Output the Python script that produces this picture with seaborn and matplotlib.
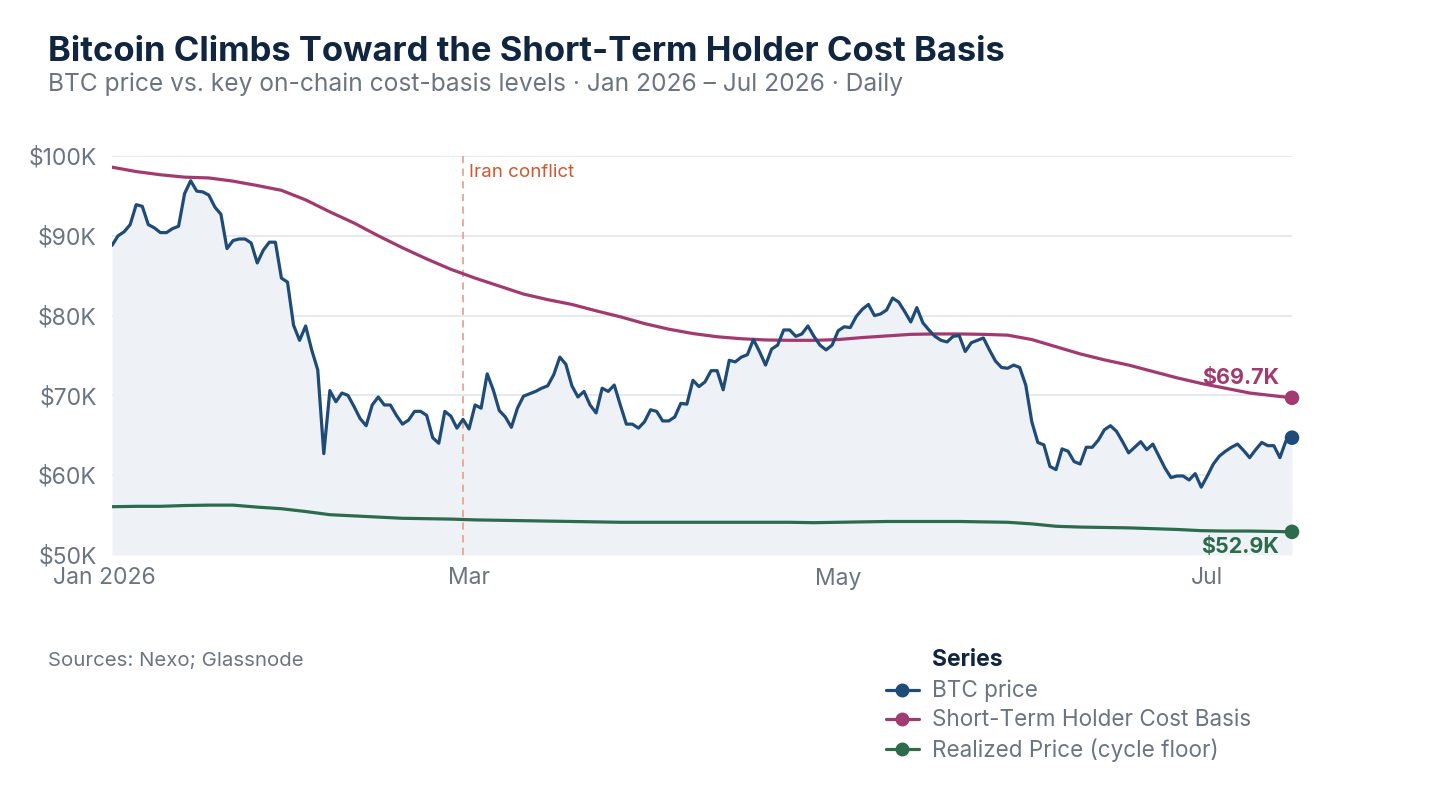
import matplotlib
matplotlib.use("Agg")
import pandas as pd
import matplotlib.pyplot as plt
import seaborn as sns
from matplotlib.lines import Line2D
from matplotlib.ticker import FuncFormatter
from matplotlib.transforms import ScaledTranslation

# BTC price, daily from 2026-01-01, in $K
btc_price = [
    88.8, 90.0, 90.5, 91.4, 93.9, 93.7, 91.4, 91.0, 90.4, 90.4,
    90.9, 91.2, 95.3, 96.9, 95.6, 95.5, 95.1, 93.6, 92.7, 88.4,
    89.4, 89.6, 89.6, 89.1, 86.6, 88.2, 89.2, 89.2, 84.7, 84.2,
    78.8, 76.9, 78.7, 75.7, 73.2, 62.7, 70.6, 69.2, 70.3, 70.0,
    68.6, 67.1, 66.2, 68.8, 69.8, 68.8, 68.8, 67.5, 66.4, 66.9,
    68.0, 68.0, 67.5, 64.7, 64.0, 68.0, 67.4, 65.9, 67.0, 65.8,
    68.8, 68.4, 72.7, 70.7, 68.1, 67.3, 66.0, 68.4, 69.9, 70.2,
    70.5, 70.9, 71.2, 72.6, 74.8, 73.9, 71.2, 69.8, 70.5, 68.8,
    67.8, 70.9, 70.5, 71.3, 68.8, 66.4, 66.4, 65.9, 66.7, 68.2,
    68.0, 66.8, 66.8, 67.3, 69.0, 68.9, 71.9, 71.1, 71.7, 73.1,
    73.1, 70.7, 74.4, 74.2, 74.8, 75.1, 77.0, 75.5, 73.8, 75.8,
    76.3, 78.2, 78.2, 77.4, 77.7, 78.7, 77.4, 76.3, 75.7, 76.3,
    78.1, 78.6, 78.5, 79.9, 80.8, 81.4, 80.0, 80.2, 80.7, 82.2,
    81.7, 80.5, 79.2, 81.0, 79.1, 78.2, 77.4, 76.9, 76.7, 77.4,
    77.5, 75.5, 76.6, 76.9, 77.2, 75.7, 74.3, 73.5, 73.4, 73.8,
    73.5, 71.3, 66.7, 64.1, 63.8, 61.1, 60.7, 63.3, 63.0, 61.7,
    61.4, 63.5, 63.5, 64.4, 65.7, 66.2, 65.5, 64.2, 62.8, 63.5,
    64.2, 63.2, 63.9, 62.4, 60.9, 59.7, 59.9, 59.9, 59.4, 60.2,
    58.5, 59.9, 61.4, 62.4, 63.0, 63.5, 63.9, 63.1, 62.2, 63.2,
    64.1, 63.7, 63.7, 62.2, 64.3, 64.7,
]

# cost-basis levels read every 4 days (last point = final day), in $K
sth_cost_basis = [
    98.6, 98.05, 97.65, 97.35, 97.25, 96.85, 96.3, 95.7, 94.5, 93.0,
    91.6, 90.0, 88.5, 87.1, 85.8, 84.7, 83.7, 82.7, 82.0, 81.4,
    80.6, 79.85, 79.0, 78.3, 77.75, 77.35, 77.1, 76.95, 76.9, 76.9,
    77.0, 77.25, 77.45, 77.65, 77.7, 77.7, 77.65, 77.55, 77.0, 76.1,
    75.2, 74.45, 73.8, 73.0, 72.2, 71.5, 70.9, 70.3, 69.95, 69.7,
]
realized_price = [
    56.05, 56.1, 56.1, 56.2, 56.25, 56.25, 56.0, 55.8, 55.45, 55.05,
    54.9, 54.75, 54.6, 54.55, 54.5, 54.4, 54.35, 54.3, 54.25, 54.2,
    54.15, 54.1, 54.1, 54.1, 54.1, 54.1, 54.1, 54.1, 54.1, 54.05,
    54.1, 54.15, 54.2, 54.2, 54.2, 54.2, 54.15, 54.1, 53.9, 53.6,
    53.5, 53.45, 53.4, 53.3, 53.2, 53.05, 53.0, 53.0, 52.95, 52.9,
]

series_labels = ["BTC price", "Short-Term Holder Cost Basis", "Realized Price (cycle floor)"]
tick_dates = ["2026-01-01", "2026-03-01", "2026-05-01", "2026-07-01"]
tick_labels = ["Jan 2026", "Mar", "May", "Jul"]
event_date = "2026-02-28"
event_label = "Iran conflict"

BTC = "#1f4b78"
STH = "#a23a6f"
REAL = "#2c6b4c"
NAVY = "#0f2540"
GRAY = "#6b7582"

sns.set_theme(style="white")
plt.rcParams["font.family"] = ["Inter", "DejaVu Sans"]

daily = pd.DataFrame({
    "date": pd.date_range("2026-01-01", periods=len(btc_price), freq="D"),
    "btc": btc_price,
})
end_date = daily["date"].iloc[-1]
level_dates = list(pd.date_range("2026-01-01", end_date, freq="4D")) + [end_date]
levels = pd.DataFrame({"date": level_dates, "sth": sth_cost_basis, "realized": realized_price})

fig = plt.figure(figsize=(14.4, 8), dpi=100)
ax = fig.add_axes([112 / 1440, 1 - 555 / 800, 1180 / 1440, 399 / 800])

ax.fill_between(daily["date"], daily["btc"], 50, color="#eef2f6", lw=0, zorder=1)
sns.lineplot(data=levels, x="date", y="realized", color=REAL, lw=2.3, ax=ax, zorder=3)
sns.lineplot(data=levels, x="date", y="sth", color=STH, lw=2.3, ax=ax, zorder=3)
sns.lineplot(data=daily, x="date", y="btc", color=BTC, lw=2.3, ax=ax, zorder=4)

# end-of-series dots and value labels
ax.scatter([end_date] * 3, [btc_price[-1], sth_cost_basis[-1], realized_price[-1]],
           color=[BTC, STH, REAL], s=110, zorder=6, clip_on=False, linewidths=0)
ax.annotate(f"${sth_cost_basis[-1]:.1f}K", xy=(end_date, sth_cost_basis[-1]), xytext=(-9, 14),
            textcoords="offset points", ha="right", va="center", fontsize=15.5,
            fontweight="bold", color=STH)
ax.annotate(f"${realized_price[-1]:.1f}K", xy=(end_date, realized_price[-1]), xytext=(-9, -11),
            textcoords="offset points", ha="right", va="center", fontsize=15.5,
            fontweight="bold", color=REAL)

# event marker
ax.axvline(pd.Timestamp(event_date), color="#e6a593", lw=1.3, ls=(0, (4, 3)), zorder=2)
ax.annotate(event_label, xy=(pd.Timestamp(event_date), 100), xytext=(4, -12),
            textcoords="offset points", ha="left", va="center", fontsize=13.5, color="#d2572f")

ax.set_xlim(daily["date"].iloc[0], end_date)
ax.set_ylim(50, 100)
ax.set_yticks(range(50, 101, 10))
ax.yaxis.set_major_formatter(FuncFormatter(lambda v, p: f"${v:.0f}K"))
ax.set_xticks(pd.to_datetime(tick_dates))
ax.set_xticklabels(tick_labels)
ax.grid(axis="y", color="#e1e5ea", lw=1.2)
ax.grid(axis="x", visible=False)
ax.tick_params(axis="both", length=0, labelsize=16.5, labelcolor=GRAY)
ax.tick_params(axis="y", pad=11)
ax.tick_params(axis="x", pad=9)
ax.set_xlabel("")
ax.set_ylabel("")
for s in ax.spines.values():
    s.set_visible(False)
first = ax.get_xticklabels()[0]
first.set_transform(first.get_transform() + ScaledTranslation(-8 / 100, 0, fig.dpi_scale_trans))

fig.text(48 / 1440, 1 - 61 / 800, "Bitcoin Climbs Toward the Short-Term Holder Cost Basis",
         fontsize=24.9, fontweight="bold", color=NAVY, va="baseline")
fig.text(48 / 1440, 1 - 91 / 800,
         "BTC price vs. key on-chain cost-basis levels · Jan 2026 – Jul 2026 · Daily",
         fontsize=17.7, color=GRAY, va="baseline")
fig.text(48 / 1440, 1 - 666 / 800, "Sources: Nexo; Glassnode", fontsize=14.7,
         color=GRAY, va="baseline")

fig.text(932 / 1440, 1 - 666 / 800, "Series", fontsize=16.5, fontweight="bold",
         color=NAVY, va="baseline")
handles = [Line2D([], [], color=c, lw=2.3, marker="o", markersize=9)
           for c in [BTC, STH, REAL]]
fig.legend(handles, series_labels, loc="upper left", bbox_to_anchor=(886 / 1440, 1 - 680 / 800),
           frameon=False, fontsize=16.2, labelcolor=GRAY, handlelength=1.45,
           handletextpad=0.6, labelspacing=0.31, borderpad=0, borderaxespad=0)

fig.savefig("out.png", dpi=100)
